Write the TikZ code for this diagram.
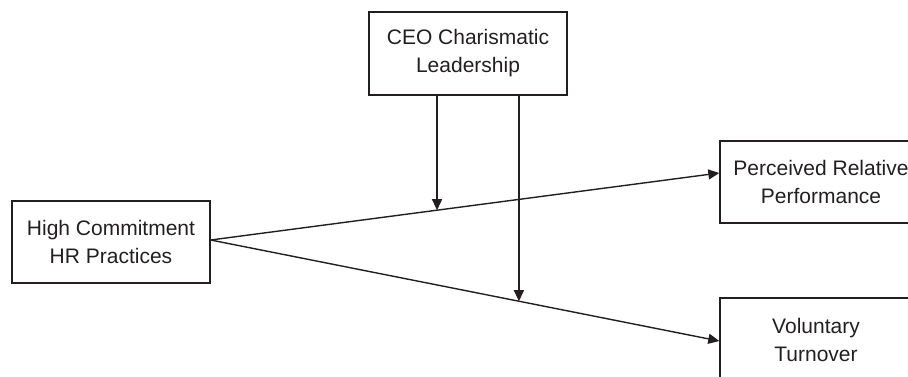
\documentclass[tikz,border=0pt]{standalone}
\usepackage{fontspec}
\setmainfont{Liberation Sans}
\usetikzlibrary{arrows.meta,calc}
\definecolor{ink}{HTML}{231F20}
\begin{document}
\begin{tikzpicture}[x=1pt,y=-1pt,
  construct/.style={draw=ink, line width=1.4pt, text=ink, align=center,
    inner sep=0pt, font=\fontsize{21}{28}\selectfont},
  path/.style={draw=ink, line width=1.4pt, -{Triangle[length=11pt,width=10pt]}}]
  \useasboundingbox (0,0) rectangle (908,376);
  \clip (0,0) rectangle (908,376);

  % constructs
  \node[construct, minimum width=198pt, minimum height=83pt] (ceo) at (468,53.5)
    {CEO Charismatic\\Leadership};
  \node[construct, minimum width=198pt, minimum height=82pt] (hcp) at (111,242)
    {High Commitment\\HR Practices};
  \node[construct, minimum width=202pt, minimum height=82pt] (prp) at (821,182)
    {Perceived Relative\\Performance};
  \node[construct, minimum width=192pt, minimum height=84pt] (vt) at (816,340)
    {Voluntary\\Turnover};

  % main effects
  \coordinate (src) at ($(hcp.east)+(0,-2)$);
  \coordinate (prpin) at ($(prp.west)+(0,-9)$);
  \coordinate (vtin) at ($(vt.west)+(0,1)$);
  \draw[path] (src) -- (prpin);
  \draw[path] (src) -- (vtin);

  % moderating paths onto the two effects
  \coordinate (m1) at ($(src)!0.445!(prpin)$);
  \coordinate (m2) at ($(src)!0.606!(vtin)$);
  \draw[path] (ceo.south -| m1) -- (m1);
  \draw[path] (ceo.south -| m2) -- (m2);
\end{tikzpicture}
\end{document}
